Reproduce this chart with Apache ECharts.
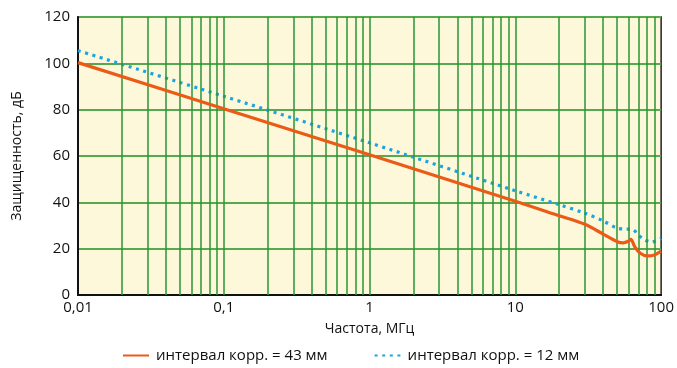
<!DOCTYPE html>
<html>
<head>
<meta charset="utf-8">
<script src="https://cdn.jsdelivr.net/npm/echarts@6/dist/echarts.min.js"></script>
<style>
html,body{margin:0;padding:0;background:#fff;}
#chart{width:677px;height:368px;}
</style>
</head>
<body>
<div id="chart"></div>
<script>
// Data
const series43Name = 'интервал корр. = 43 мм';
const series12Name = 'интервал корр. = 12 мм';
const freq43 = [0.01, 0.1, 1, 10, 20, 30, 40, 50, 55, 60, 62, 66, 72, 80, 90, 100];
const val43  = [100.3, 80.4, 60.5, 40.5, 34.2, 30.5, 26.3, 23.0, 22.5, 23.3, 24.0, 20.8, 18.0, 16.9, 17.3, 19.0];
const freq12 = [0.01, 0.1, 1, 10, 20, 30, 40, 50, 56, 64, 70, 77, 86, 100];
const val12  = [105.5, 85.8, 65.7, 45.0, 39.0, 35.3, 32.0, 28.8, 28.5, 28.2, 25.8, 23.8, 22.9, 24.4];
const xTickLabels = ['0,01', '0,1', '1', '10', '100'];
const gridFreqs = [0.02,0.03,0.04,0.05,0.06,0.07,0.08,0.09,0.1,
                   0.2,0.3,0.4,0.5,0.6,0.7,0.8,0.9,1,
                   2,3,4,5,6,7,8,9,10,
                   20,30,40,50,60,70,80,90];
const xTitle = 'Частота, МГц';
const yTitle = 'Защищенность, дБ';

const font = '"Open Sans", "Noto Sans", sans-serif';
const chart = echarts.init(document.getElementById('chart'), null, {renderer: 'canvas'});
function fmt(v){
  const n = Number(Number(v).toPrecision(6));
  const map = {0.01: xTickLabels[0], 0.1: xTickLabels[1], 1: xTickLabels[2], 10: xTickLabels[3], 100: xTickLabels[4]};
  return map[n] !== undefined ? map[n] : String(n).replace('.', ',');
}
chart.setOption({
  animation: false,
  backgroundColor: '#ffffff',
  textStyle: {fontFamily: font},
  grid: {left: 78, right: 14, top: 17, bottom: 73, show: true, backgroundColor: '#fdf8d9', borderColor: '#222', borderWidth: 1.5, containLabel: false},
  xAxis: {
    type: 'log', logBase: 10, min: 0.01, max: 100,
    name: xTitle, nameLocation: 'middle', nameGap: 27,
    nameTextStyle: {fontSize: 14, color: '#111', fontFamily: font},
    axisLine: {show: true, lineStyle: {color: '#111', width: 2}},
    axisTick: {show: false},
    splitLine: {show: false},
    axisLabel: {fontSize: 15, color: '#111', margin: 5, formatter: fmt, fontFamily: font}
  },
  yAxis: {
    type: 'value', min: 0, max: 120, interval: 20,
    name: yTitle, nameLocation: 'middle', nameGap: 54, nameRotate: 90,
    nameTextStyle: {fontSize: 14, color: '#111', fontFamily: font},
    axisLine: {show: true, lineStyle: {color: '#111', width: 2}},
    axisTick: {show: false},
    splitLine: {show: true, lineStyle: {color: '#55a951', width: 2}},
    axisLabel: {fontSize: 15, color: '#111', margin: 8, fontFamily: font}
  },
  legend: {
    bottom: 0, left: 117, itemGap: 46, itemWidth: 26, itemHeight: 10,
    itemStyle: {opacity: 0},
    textStyle: {fontSize: 15, color: '#111', fontFamily: font, padding: [0, 0, 0, 2]},
    data: [series43Name, series12Name]
  },
  series: [
    {
      name: 'grid', type: 'line', data: [], silent: true,
      markLine: {
        silent: true, symbol: 'none', label: {show: false},
        lineStyle: {color: '#2a9636', width: 1.5, type: 'solid'},
        data: gridFreqs.map(f => ({xAxis: f}))
      },
      z: 1
    },
    {
      name: series43Name, type: 'line', showSymbol: false, symbol: 'none', smooth: 0.3,
      data: freq43.map((f, i) => [f, val43[i]]),
      lineStyle: {color: '#ec5a17', width: 3.2},
      itemStyle: {color: '#ec5a17'},
      z: 5
    },
    {
      name: series12Name, type: 'line', showSymbol: false, symbol: 'none', smooth: 0.3,
      data: freq12.map((f, i) => [f, val12[i]]),
      lineStyle: {color: '#1ba3e3', width: 3.2, type: [3, 4.6]},
      itemStyle: {color: '#1ba3e3'},
      z: 4
    }
  ]
});
</script>
</body>
</html>
